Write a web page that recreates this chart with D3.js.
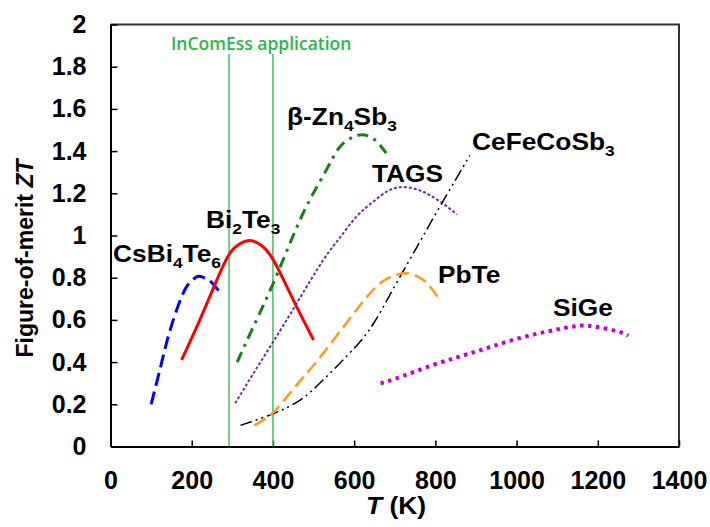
<!DOCTYPE html>
<html>
<head>
<meta charset="utf-8">
<script src="https://cdn.jsdelivr.net/npm/d3@7"></script>
<style>
  body { margin: 0; background: #fff; }
  text { font-family: "Liberation Sans", Arial, sans-serif; }
</style>
</head>
<body>
<svg id="chart"></svg>
<script>
// ZT values, [T (K), ZT]
const csBi4Te6 = [[100,0.20],[125,0.39],[147,0.553],[179,0.727],[200,0.785],[216,0.807],[230,0.80],[245,0.785],[274,0.72]];
const bi2Te3 = [[175,0.41],[220,0.60],[262,0.79],[294,0.916],[320,0.962],[344,0.976],[370,0.955],[401,0.884],[450,0.695],[500,0.505]];
const znSb = [[312,0.40],[350,0.56],[400,0.77],[450,1.0],[491,1.17],[530,1.305],[561,1.41],[590,1.46],[619,1.478],[650,1.455],[679,1.39]];
const tags = [[307,0.205],[350,0.34],[401,0.497],[459,0.68],[524,0.884],[565,0.99],[606,1.09],[650,1.165],[688,1.216],[725,1.229],[760,1.215],[787,1.19],[820,1.15],[853,1.10]];
const ceFeCoSb = [[320,0.10],[400,0.155],[467,0.22],[524,0.316],[600,0.465],[650,0.59],[700,0.76],[750,0.93],[800,1.10],[850,1.265],[885,1.38]];
const pbTe = [[354,0.10],[397,0.155],[442,0.253],[480,0.34],[524,0.442],[606,0.648],[664,0.774],[700,0.81],[721,0.821],[745,0.815],[770,0.79],[790,0.75],[811,0.695]];
const siGe = [[665,0.30],[700,0.32],[800,0.39],[900,0.45],[1000,0.51],[1100,0.555],[1160,0.573],[1200,0.566],[1250,0.545],[1275,0.525]];

const xTicks = [0, 200, 400, 600, 800, 1000, 1200, 1400];
const yTicks = [0, 0.2, 0.4, 0.6, 0.8, 1, 1.2, 1.4, 1.6, 1.8, 2];
const appRange = [292, 400]; // InComEss application window, K

const width = 710, height = 527;
const margin = { top: 24.5, right: 31, bottom: 80.5, left: 110.5 };

const svg = d3.select('#chart').attr('width', width).attr('height', height);

const x = d3.scaleLinear().domain([0, 1400]).range([margin.left, width - margin.right]);
const y = d3.scaleLinear().domain([0, 2]).range([height - margin.bottom, margin.top]);

// frame top/right
svg.append('path')
  .attr('d', `M${x(0)},${y(2)}H${x(1400)}V${y(0)}`)
  .attr('fill', 'none').attr('stroke', '#333').attr('stroke-width', 2);

// axes
const xAxis = svg.append('g')
  .attr('transform', `translate(0,${y(0)})`)
  .call(d3.axisBottom(x).tickValues(xTicks).tickSizeInner(-6).tickSizeOuter(0).tickFormat(d3.format('d')));
const yAxis = svg.append('g')
  .attr('transform', `translate(${x(0)},0)`)
  .call(d3.axisLeft(y).tickValues(yTicks).tickSizeInner(-7).tickSizeOuter(0).tickPadding(24).tickFormat(d3.format('~g')));

[xAxis, yAxis].forEach(g => {
  g.select('.domain').attr('stroke', '#000').attr('stroke-width', 2);
  g.selectAll('.tick line').attr('stroke', '#000').attr('stroke-width', 1.5);
  g.selectAll('.tick text')
    .attr('fill', '#000')
    .style('font-family', '"Liberation Sans", Arial, sans-serif')
    .style('font-size', '25px').style('font-weight', 'bold');
});
xAxis.selectAll('.tick text').attr('y', 42).attr('dy', 0);
// ticks at the plot edges are hidden by the frame anyway
xAxis.selectAll('.tick line').filter(d => d === 0).remove();
yAxis.selectAll('.tick line').filter(d => d === 0).remove();

// application window
svg.selectAll('.app')
  .data(appRange)
  .enter().append('line')
    .attr('x1', d => x(d)).attr('x2', d => x(d))
    .attr('y1', 54).attr('y2', y(0))
    .attr('stroke', '#4cbb5f').attr('stroke-width', 1.5);

svg.append('text')
  .attr('x', 171).attr('y', 50)
  .attr('fill', '#2fb54a')
  .style('font-family', '"Open Sans", sans-serif')
  .style('font-size', '17.5px').style('font-weight', '600')
  .text('InComEss application');

const line = d3.line()
  .x(d => x(d[0]))
  .y(d => y(d[1]))
  .curve(d3.curveNatural);

const series = [
  { data: csBi4Te6, color: '#0000ff', w: 3, dash: '13,6' },
  { data: bi2Te3, color: '#ff0000', w: 3, dash: null },
  { data: znSb, color: '#1a7f1a', w: 3, dash: '11,6,3,6' },
  { data: tags, color: '#7030a0', w: 2, dash: '3,2' },
  { data: ceFeCoSb, color: '#000', w: 1.5, dash: '12,4,2,4,2,4' },
  { data: pbTe, color: '#ff9922', w: 2.5, dash: '13,6' },
  { data: siGe, color: '#cc00cc', w: 4, dash: '3.5,4.5' }
];

series.forEach(s => {
  svg.append('path')
    .datum(s.data)
    .attr('d', line)
    .attr('fill', 'none')
    .attr('stroke', s.color)
    .attr('stroke-width', s.w)
    .attr('stroke-dasharray', s.dash);
});

// curve labels: parts are [text, isSubscript]; reference type is a bit stretched sideways
const labels = [
  { x: 113, y: 262, parts: [['CsBi', 0], ['4', 1], ['Te', 0], ['6', 1]] },
  { x: 206, y: 228, parts: [['Bi', 0], ['2', 1], ['Te', 0], ['3', 1]] },
  { x: 287, y: 125, parts: [['β-Zn', 0], ['4', 1], ['Sb', 0], ['3', 1]] },
  { x: 372, y: 182, parts: [['TAGS', 0]] },
  { x: 472, y: 150, parts: [['CeFeCoSb', 0], ['3', 1]] },
  { x: 438, y: 283, parts: [['PbTe', 0]] },
  { x: 553, y: 316, parts: [['SiGe', 0]] }
];

labels.forEach(l => {
  const t = svg.append('g')
      .attr('transform', `translate(${l.x},${l.y}) scale(1.12,1)`)
    .append('text')
      .attr('fill', '#000')
      .style('font-size', '23.5px').style('font-weight', 'bold');
  let sub = false;
  l.parts.forEach(p => {
    const ts = t.append('tspan').text(p[0]);
    if (p[1] && !sub) { ts.attr('dy', 6).style('font-size', '15.5px'); sub = true; }
    else if (!p[1] && sub) { ts.attr('dy', -6); sub = false; }
  });
});

// axis titles
const yt = svg.append('text')
  .attr('transform', `translate(33,${(y(0) + y(2)) / 2 + 23}) rotate(-90)`)
  .attr('text-anchor', 'middle')
  .attr('fill', '#000')
  .style('font-size', '23px').style('font-weight', 'bold');
yt.append('tspan').text('Figure-of-merit ');
yt.append('tspan').style('font-style', 'italic').text('ZT');

const xt = svg.append('g')
    .attr('transform', 'translate(396,514) scale(1.1,1)')
  .append('text')
    .attr('text-anchor', 'middle')
    .attr('fill', '#000')
    .style('font-size', '24px').style('font-weight', 'bold');
xt.append('tspan').style('font-style', 'italic').text('T');
xt.append('tspan').text(' (K)');
</script>
</body>
</html>
